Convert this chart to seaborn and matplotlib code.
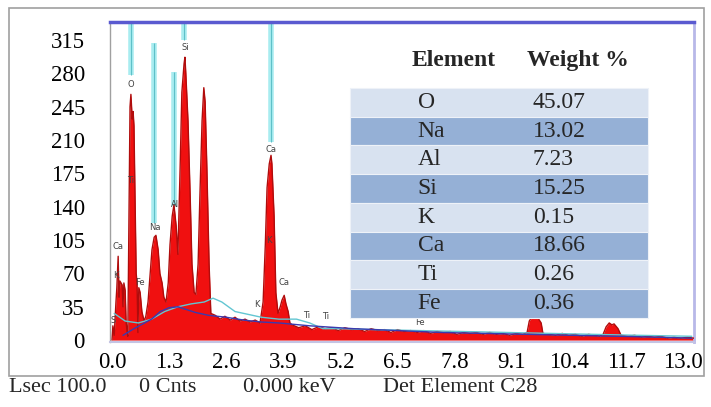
import matplotlib
matplotlib.use("Agg")
import matplotlib.pyplot as plt
import seaborn as sns
from matplotlib.patches import Rectangle

# spectrum (energy in keV, counts)
energy = [0.00, 0.02, 0.05, 0.09, 0.11, 0.14, 0.16, 0.18, 0.23, 0.25, 0.27, 0.30, 0.32, 0.34, 0.36,
          0.39, 0.41, 0.43, 0.46, 0.48, 0.50, 0.52, 0.55, 0.57, 0.59, 0.61, 0.64, 0.68, 0.73, 0.77, 0.82,
          0.87, 0.91, 0.96, 1.00, 1.05, 1.09, 1.14, 1.18, 1.23,
          1.28, 1.32, 1.37, 1.41, 1.46, 1.50,
          1.55, 1.59, 1.64, 1.66, 1.68, 1.73, 1.78, 1.82, 1.87, 1.91,
          1.96, 2.00, 2.05, 2.09, 2.12, 2.16, 2.21, 2.25,
          2.35, 2.46, 2.57, 2.69, 2.80, 2.91, 3.03, 3.14, 3.26, 3.37,
          3.44, 3.49, 3.53, 3.58, 3.62, 3.64, 3.69, 3.73, 3.78,
          3.83, 3.87, 3.92, 3.96, 4.01, 4.05,
          4.10, 4.25, 4.40, 4.55, 4.70, 4.85, 5.00, 5.15, 5.30, 5.45, 5.60, 5.75, 5.90, 6.05, 6.20,
          6.35, 6.50, 6.65, 6.80, 6.95, 7.10, 7.25, 7.40, 7.55, 7.70, 7.85, 8.00, 8.15, 8.30, 8.45,
          8.60, 8.75, 8.90, 9.05, 9.20, 9.35,
          9.45, 9.50, 9.54, 9.62, 9.70, 9.77, 9.81, 9.95, 10.10, 10.25, 10.40, 10.55, 10.70, 10.85,
          11.00, 11.10, 11.18, 11.25, 11.32, 11.38, 11.43, 11.52, 11.59, 11.75, 11.90, 12.05, 12.20,
          12.35, 12.50, 12.65, 12.80, 12.95, 13.10, 13.25]
counts = [0, 15, 5, 40, 55, 88, 45, 62, 58, 35, 60, 52, 20, 10, 4,
          150, 245, 258, 232, 240, 225, 160, 70, 60, 8, 55, 50, 30, 20, 25, 40,
          70, 95, 108, 110, 95, 70, 60, 45, 40,
          60, 100, 130, 142, 120, 90,
          180, 260, 290, 297, 280, 230, 150, 80, 50, 48,
          80, 150, 230, 265, 250, 180, 80, 28,
          26, 22, 25, 21, 24, 20, 22, 19, 21, 18,
          40, 100, 160, 185, 194, 185, 130, 50, 28,
          35, 42, 47, 38, 30, 18,
          16, 13, 15, 11, 14, 12, 13, 10, 13, 11, 12, 9, 12, 10, 11,
          8, 11, 9, 10, 8, 10, 7, 9, 8, 9, 6, 8, 7, 8, 6,
          8, 6, 7, 5, 7, 6,
          8, 20, 23, 24, 23, 18, 7, 6, 5, 7, 5, 6, 4, 6,
          5, 4, 6, 14, 18, 16, 17, 12, 5, 4, 5, 3, 4,
          3, 4, 2, 3, 2, 3, 2]

# fitted background (dark blue) and marker trace (teal)
bg_energy = [0.25, 0.5, 0.7, 0.9, 1.1, 1.3, 1.5, 1.7, 1.9, 2.2, 2.6, 3.0, 3.4, 3.8, 4.5, 5.5,
             6.5, 7.5, 8.5, 9.5, 10.5, 11.5, 12.5, 13.2]
bg_counts = [5, 12, 17, 22, 30, 34, 35, 32, 29, 26, 24, 21, 19, 18, 15, 12, 10, 8, 7, 6, 5, 4, 3, 2]
trace_energy = [0.05, 0.3, 0.6, 0.9, 1.2, 1.5, 1.8, 2.1, 2.3, 2.5, 2.8, 3.1, 3.4, 3.8, 4.2, 4.5,
                4.8, 5.2, 6.0, 7.0, 8.0, 9.0, 10.0, 11.0, 12.0, 13.2]
trace_counts = [28, 20, 18, 22, 30, 35, 38, 40, 44, 40, 30, 27, 24, 22, 22, 18, 12, 12, 11, 10,
                9, 8, 7, 6, 5, 4]

# element marker lines: energy, top, bottom
marker_energy = [0.43, 0.96, 1.41, 1.64, 3.62]
marker_top = [334, 312, 282, 334, 334]
marker_bottom = [278, 123, 141, 315, 208]

# small peak labels
peak_labels = ["O", "Si", "Ca", "Ti", "Na", "Al", "Ca", "K", "Fe", "S", "K", "K", "Ca", "Ti", "Ti", "Fe"]
peak_label_x = [0.43, 1.66, 3.62, 0.43, 0.98, 1.43, 0.14, 0.09, 0.64, 0.02, 3.58, 3.30, 3.92, 4.43, 4.87, 7.00]
peak_label_y = [268, 307, 200, 168, 118, 142, 98, 68, 60, 21, 105, 37, 60, 26, 25, 19]

# composition table
elements = ["O", "Na", "Al", "Si", "K", "Ca", "Ti", "Fe"]
weights = ["45.07", "13.02", "7.23", "15.25", "0.15", "18.66", "0.26", "0.36"]

x_ticks = [0.0, 1.3, 2.6, 3.9, 5.2, 6.5, 7.8, 9.1, 10.4, 11.7, 13.0]
y_ticks = [0, 35, 70, 105, 140, 175, 210, 245, 280, 315]

sns.set_theme(style="white")
plt.rcParams["font.family"] = ["Liberation Serif", "DejaVu Serif"]

fig = plt.figure(figsize=(7.11, 4.07), dpi=100)
fig.patches.append(Rectangle((0.0127, 0.0762), 0.9775, 0.904, transform=fig.transFigure,
                             fill=False, edgecolor="#a0a0a0", lw=1.2))
ax = fig.add_axes([0.1547, 0.1597, 0.8214, 0.7863])

# marker lines behind the spectrum
for e, t, b in zip(marker_energy, marker_top, marker_bottom):
    ax.vlines(e, b, t, color="#a8ecf0", lw=4, zorder=1)
    ax.vlines(e, b, t, color="#5fc0c8", lw=0.8, zorder=1)

ax.fill_between(energy, counts, 0, color="#f01010", lw=0, zorder=2)
sns.lineplot(x=energy, y=counts, color="#b00c0c", lw=1.0, estimator=None, sort=False, ax=ax, zorder=3)
sns.lineplot(x=trace_energy, y=trace_counts, color="#62c6d2", lw=1.0, estimator=None, ax=ax, zorder=4)
sns.lineplot(x=bg_energy, y=bg_counts, color="#3a3ab0", lw=1.0, estimator=None, ax=ax, zorder=4)

for lab, lx, ly in zip(peak_labels, peak_label_x, peak_label_y):
    ax.text(lx, ly, lab, fontsize=6, color="#444444", ha="center", va="center",
            family=["DejaVu Sans"], zorder=5)

ax.set_xlim(-0.046, 13.25)
ax.set_ylim(-2, 334)
ax.set_xticks(x_ticks)
ax.set_xticklabels([f"{v:.1f}" for v in x_ticks])
ax.set_yticks(y_ticks)
ax.tick_params(axis="both", length=0, labelsize=16.5, colors="black")
ax.tick_params(axis="x", pad=7)
ax.tick_params(axis="y", pad=18)
ax.set_xlabel("")
ax.set_ylabel("")

ax.spines["top"].set_color("#5a5ad0")
ax.spines["top"].set_linewidth(2.5)
ax.spines["right"].set_color("#b8b8e8")
ax.spines["right"].set_linewidth(2)
ax.spines["bottom"].set_color("#c4c4e4")
ax.spines["bottom"].set_linewidth(1.5)
ax.spines["left"].set_color("#a0a0a0")
ax.spines["left"].set_linewidth(1)

# table inside the plot (axes fraction)
tx0, tx1 = 0.411, 0.921
ttop, rh = 0.794, 0.0898
ax.text(0.517, 0.881, "Element", transform=ax.transAxes, fontsize=17, fontweight="bold",
        ha="left", va="center", zorder=6)
ax.text(0.714, 0.881, "Weight %", transform=ax.transAxes, fontsize=17, fontweight="bold",
        ha="left", va="center", zorder=6)
for i, (el, w) in enumerate(zip(elements, weights)):
    y0 = ttop - (i + 1) * rh
    col = "#d8e2f0" if i % 2 == 0 else "#95b0d6"
    ax.add_patch(Rectangle((tx0, y0), tx1 - tx0, rh, transform=ax.transAxes, facecolor=col,
                           edgecolor="#eef2f8", lw=0.8, zorder=5))
    ax.text(0.527, y0 + rh / 2, el, transform=ax.transAxes, fontsize=17, ha="left", va="center", zorder=6)
    ax.text(0.724, y0 + rh / 2, w, transform=ax.transAxes, fontsize=17, ha="left", va="center", zorder=6)

# status line under the frame
fig.text(0.013, 0.047, "Lsec 100.0", fontsize=16, va="center")
fig.text(0.195, 0.047, "0 Cnts", fontsize=16, va="center")
fig.text(0.342, 0.047, "0.000 keV", fontsize=16, va="center")
fig.text(0.538, 0.047, "Det Element C28", fontsize=16, va="center")

fig.savefig("out.png", dpi=100)
